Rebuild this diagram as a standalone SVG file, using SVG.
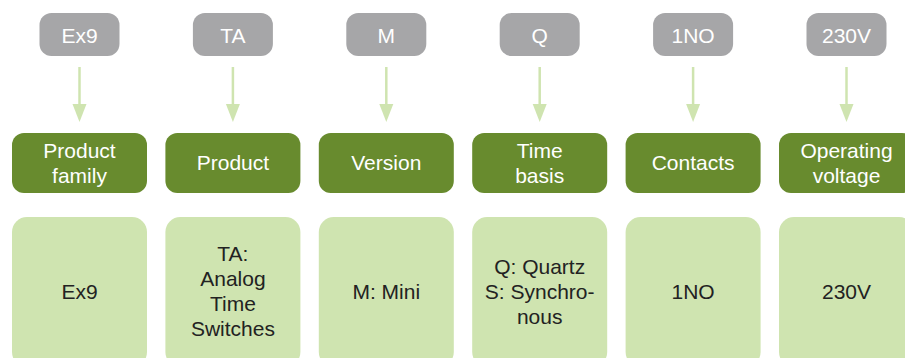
<svg xmlns="http://www.w3.org/2000/svg" width="905" height="358" viewBox="0 0 905 358">
<defs>
<style>
text{font-family:"Liberation Sans",Arial,sans-serif;font-size:21px;text-anchor:middle}
.g{fill:#a6a6a8}
.d{fill:#688b2e}
.l{fill:#cfe4b0}
.wt{fill:#ffffff}
.bt{fill:#222222}
.c{stroke:#cfe4b0;stroke-width:2.5;fill:none}
.h{fill:#cfe4b0}
</style>
</defs>
<rect width="905" height="358" fill="#ffffff"/>
<g id="connectors">
<line class="c" x1="79.5" y1="67" x2="79.5" y2="105"/><polygon class="h" points="72.5,104 86.5,104 79.5,122"/>
<line class="c" x1="232.9" y1="67" x2="232.9" y2="105"/><polygon class="h" points="225.9,104 239.9,104 232.9,122"/>
<line class="c" x1="386.3" y1="67" x2="386.3" y2="105"/><polygon class="h" points="379.3,104 393.3,104 386.3,122"/>
<line class="c" x1="539.7" y1="67" x2="539.7" y2="105"/><polygon class="h" points="532.7,104 546.7,104 539.7,122"/>
<line class="c" x1="693.1" y1="67" x2="693.1" y2="105"/><polygon class="h" points="686.1,104 700.1,104 693.1,122"/>
<line class="c" x1="846.5" y1="67" x2="846.5" y2="105"/><polygon class="h" points="839.5,104 853.5,104 846.5,122"/>
</g>
<g id="code-ex9"><rect class="g" x="39.5" y="13" width="80" height="43" rx="12"/><text class="wt" x="79.5" y="43">Ex9</text></g>
<g id="code-ta"><rect class="g" x="192.9" y="13" width="80" height="43" rx="12"/><text class="wt" x="232.9" y="43">TA</text></g>
<g id="code-m"><rect class="g" x="346.3" y="13" width="80" height="43" rx="12"/><text class="wt" x="386.3" y="43">M</text></g>
<g id="code-q"><rect class="g" x="499.7" y="13" width="80" height="43" rx="12"/><text class="wt" x="539.7" y="43">Q</text></g>
<g id="code-1no"><rect class="g" x="653.1" y="13" width="80" height="43" rx="12"/><text class="wt" x="693.1" y="43">1NO</text></g>
<g id="code-230v"><rect class="g" x="806.5" y="13" width="80" height="43" rx="12"/><text class="wt" x="846.5" y="43">230V</text></g>

<g id="label-family"><rect class="d" x="12" y="133" width="135" height="60" rx="12"/><text class="wt" x="79.5" y="158">Product</text><text class="wt" x="79.5" y="183">family</text></g>
<g id="label-product"><rect class="d" x="165.4" y="133" width="135" height="60" rx="12"/><text class="wt" x="232.9" y="170">Product</text></g>
<g id="label-version"><rect class="d" x="318.8" y="133" width="135" height="60" rx="12"/><text class="wt" x="386.3" y="170">Version</text></g>
<g id="label-timebasis"><rect class="d" x="472.2" y="133" width="135" height="60" rx="12"/><text class="wt" x="539.7" y="158">Time</text><text class="wt" x="539.7" y="183">basis</text></g>
<g id="label-contacts"><rect class="d" x="625.6" y="133" width="135" height="60" rx="12"/><text class="wt" x="693.1" y="170">Contacts</text></g>
<g id="label-voltage"><rect class="d" x="779" y="133" width="135" height="60" rx="12"/><text class="wt" x="846.5" y="158">Operating</text><text class="wt" x="846.5" y="183">voltage</text></g>

<g id="desc-ex9"><rect class="l" x="12" y="217" width="135" height="150" rx="15"/><text class="bt" x="79.5" y="299">Ex9</text></g>
<g id="desc-ta"><rect class="l" x="165.4" y="217" width="135" height="150" rx="15"/><text class="bt" x="232.9" y="261">TA:</text><text class="bt" x="232.9" y="286">Analog</text><text class="bt" x="232.9" y="311">Time</text><text class="bt" x="232.9" y="336">Switches</text></g>
<g id="desc-m"><rect class="l" x="318.8" y="217" width="135" height="150" rx="15"/><text class="bt" x="386.3" y="299">M: Mini</text></g>
<g id="desc-q"><rect class="l" x="472.2" y="217" width="135" height="150" rx="15"/><text class="bt" x="539.7" y="274">Q: Quartz</text><text class="bt" x="539.7" y="299">S: Synchro-</text><text class="bt" x="539.7" y="324">nous</text></g>
<g id="desc-1no"><rect class="l" x="625.6" y="217" width="135" height="150" rx="15"/><text class="bt" x="693.1" y="299">1NO</text></g>
<g id="desc-230v"><rect class="l" x="779" y="217" width="135" height="150" rx="15"/><text class="bt" x="846.5" y="299">230V</text></g>
</svg>
